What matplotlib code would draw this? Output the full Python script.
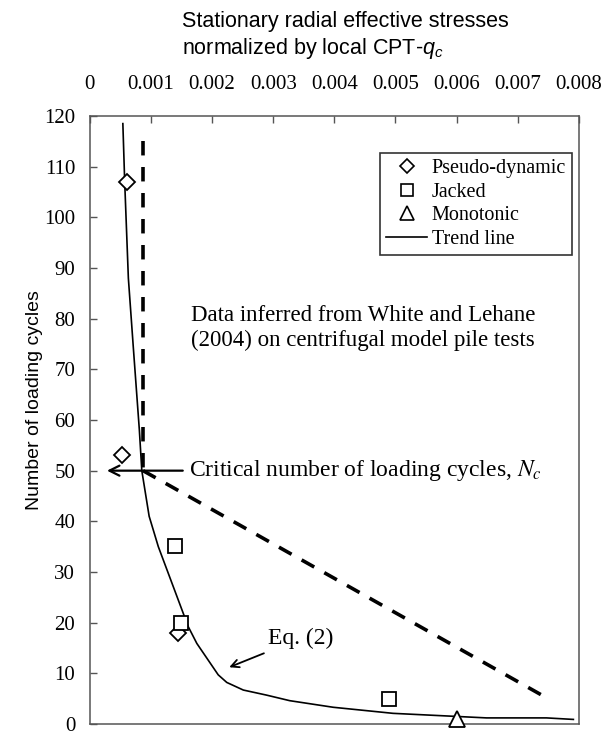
import matplotlib.pyplot as plt
from matplotlib.lines import Line2D

plt.rcParams['mathtext.fontset'] = 'custom'
plt.rcParams['mathtext.rm'] = 'Liberation Sans'
plt.rcParams['mathtext.it'] = 'Liberation Sans:italic'

# measured points, normalized radial stress vs number of loading cycles
pseudo_x = [0.00060, 0.00052, 0.00145]
pseudo_y = [107, 53, 18]
jacked_x = [0.00139, 0.00149, 0.00489]
jacked_y = [35.2, 19.9, 4.9]
mono_x = [0.0060]
mono_y = [1.0]

# trend line (Eq. 2)
trend_x = [0.00054, 0.00057, 0.00063, 0.00071, 0.00081, 0.00085, 0.00093, 0.00097,
           0.00112, 0.00161, 0.00175, 0.00210, 0.00224, 0.00251, 0.00289, 0.00327,
           0.00398, 0.00496, 0.00649, 0.00747, 0.00791]
trend_y = [118.5, 107, 88, 74.5, 58, 50, 44, 41,
           35, 19.2, 15.9, 9.7, 8.2, 6.7, 5.7, 4.6,
           3.3, 2.1, 1.2, 1.2, 0.9]

# critical number of cycles and the dashed bound
nc_x = 0.00087
nc_y = 50
bound_top = 115
bound_end_x = 0.00754
bound_end_y = 4.7

serif = 'Liberation Serif'
sans = 'Liberation Sans'

fig = plt.figure(figsize=(6.03, 7.31), dpi=100)
ax = fig.add_axes([0.149, 0.0096, 0.811, 0.8317])

ax.plot(trend_x, trend_y, color='black', lw=1.2)
ax.plot([nc_x, nc_x], [bound_top, nc_y], color='black', lw=2.6, dashes=(4, 3.2))
ax.plot([nc_x, bound_end_x], [nc_y, bound_end_y], color='black', lw=2.6, dashes=(4, 3.2))

ax.plot(pseudo_x, pseudo_y, linestyle='none', marker='D', ms=8.5, mfc='white',
        mec='black', mew=1.3, zorder=5)
ax.plot(jacked_x, jacked_y, linestyle='none', marker='s', ms=10, mfc='white',
        mec='black', mew=1.3, zorder=5)
ax.plot(mono_x, mono_y, linestyle='none', marker='^', ms=11, mfc='white',
        mec='black', mew=1.3, zorder=5, clip_on=False)

ax.set_xlim(0, 0.008)
ax.set_ylim(0, 120)
ax.set_xticks([i * 0.001 for i in range(9)])
ax.set_xticklabels(['0'] + ['0.00%d' % i for i in range(1, 9)])
ax.set_yticks(range(0, 121, 10))

ax.xaxis.tick_top()
ax.tick_params(axis='x', direction='in', length=5, width=1, color='#555555',
               pad=16, labelsize=15)
ax.tick_params(axis='y', direction='in', length=5, width=1, color='#555555',
               pad=10.5, labelsize=15)
for lab in ax.get_xticklabels() + ax.get_yticklabels():
    lab.set_fontfamily(serif)
for sp in ax.spines.values():
    sp.set_color('#555555')
    sp.set_linewidth(1.1)

fig.text(182 / 603, 1 - 36 / 731,
         'Stationary radial effective stresses\nnormalized by local CPT-$q_c$',
         fontsize=15.5, family=sans, ha='left', va='center', linespacing=1.21,
         math_fontfamily='custom')
fig.text(35 / 603, 1 - 400 / 731, 'Number of loading cycles', fontsize=14,
         family=sans, rotation=90, ha='center', va='center')

# legend
handles = [
    Line2D([], [], linestyle='none', marker='D', ms=7.5, mfc='white', mec='black', mew=1.2),
    Line2D([], [], linestyle='none', marker='s', ms=8.5, mfc='white', mec='black', mew=1.2),
    Line2D([], [], linestyle='none', marker='^', ms=9.5, mfc='white', mec='black', mew=1.2),
    Line2D([], [], color='black', lw=1.2),
]
leg = ax.legend(handles, ['Pseudo-dynamic', 'Jacked', 'Monotonic', 'Trend line'],
                loc='upper right', bbox_to_anchor=(0.986, 0.939), frameon=True,
                fancybox=False, edgecolor='black', prop={'family': serif, 'size': 14.5},
                handlelength=2.0, handletextpad=0.25, labelspacing=0.22,
                borderpad=0.3, borderaxespad=0)
leg.get_frame().set_linewidth(1.2)

ax.text(0.00166, 78.2, 'Data inferred from White and Lehane\n(2004) on centrifugal model pile tests',
        family=serif, fontsize=16.5, va='center', ha='left', linespacing=1.25)

ax.annotate('', xy=(0.00028, nc_y), xytext=(0.00152, nc_y),
            arrowprops=dict(arrowstyle='->', color='black', lw=1.6,
                            shrinkA=0, shrinkB=0, mutation_scale=18))
ax.text(0.00163, nc_y, 'Critical number of loading cycles, $N_c$',
        family=serif, fontsize=17, va='center', ha='left', math_fontfamily='stix')

ax.annotate('Eq. (2)', xy=(0.00228, 11.2), xytext=(0.00292, 16.9),
            family=serif, fontsize=17, va='center', ha='left',
            arrowprops=dict(arrowstyle='->', color='black', lw=1.3,
                            shrinkA=3, shrinkB=0, mutation_scale=14))

fig.savefig('out.png', dpi=100)
